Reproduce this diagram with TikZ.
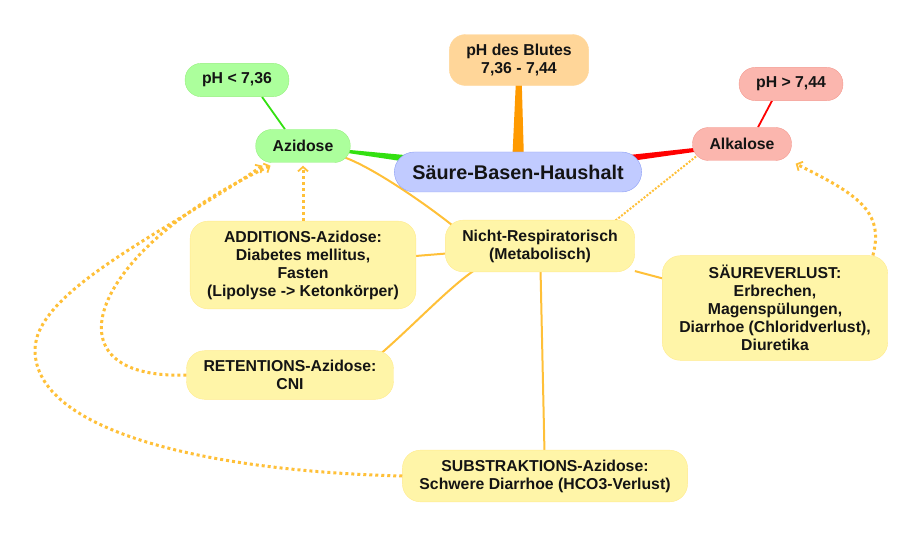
\documentclass[tikz,border=0pt]{standalone}
\usepackage{fontspec}
\setmainfont{Liberation Sans}
\usetikzlibrary{arrows.meta,calc,backgrounds}
\definecolor{textdark}{HTML}{141414}
\definecolor{softyellow}{HTML}{FFF5A8}
\definecolor{edgeyellow}{HTML}{FFEA8C}
\definecolor{linkyellow}{HTML}{FFC038}
\definecolor{softgreen}{HTML}{ACFF9C}
\definecolor{edgegreen}{HTML}{96F07E}
\definecolor{linkgreen}{HTML}{33E011}
\definecolor{softred}{HTML}{FBB6AE}
\definecolor{edgered}{HTML}{F49A90}
\definecolor{linkred}{HTML}{FF0000}
\definecolor{softblue}{HTML}{C1CBFF}
\definecolor{edgeblue}{HTML}{8C9EF5}
\definecolor{softorange}{HTML}{FFD699}
\definecolor{linkorange}{HTML}{FF9A00}
\tikzset{
  topic/.style={align=center, text=textdark, font=\fontsize{15.8}{18}\selectfont\bfseries,
    inner xsep=17pt, inner ysep=9.5pt, minimum height=33pt, rounded corners=16pt},
  yellowbox/.style={topic, draw=edgeyellow, fill=softyellow, rounded corners=18pt},
  greenbox/.style={topic, draw=edgegreen, fill=softgreen},
  redbox/.style={topic, draw=edgered, fill=softred},
  orangebox/.style={topic, draw=softorange, fill=softorange},
  mainbox/.style={topic, draw=edgeblue, fill=softblue, font=\fontsize{19.8}{22}\selectfont\bfseries,
    minimum height=40pt, inner xsep=18pt, rounded corners=20pt},
  link/.style={linkyellow, line width=2pt},
  thinlink/.style={line width=1.8pt},
  dotlink/.style={linkyellow, line width=3pt, dash pattern=on 3pt off 3pt,
    -{Straight Barb[length=4.5pt,width=10pt,line width=1.8pt]}},
  thindot/.style={linkyellow, line width=2pt, dash pattern=on 2pt off 1.6pt}
}

\begin{document}
\begin{tikzpicture}[x=1pt,y=-1pt]
  \useasboundingbox (0,0) rectangle (923,537);
  \node[mainbox] (main) at (518,172) {Säure-Basen-Haushalt};
  \node[orangebox] (blut) at (519,60) {pH des Blutes\\7,36 - 7,44};
  \node[greenbox] (ltph) at (237,80) {pH < 7,36};
  \node[greenbox] (azi) at (303,146) {Azidose};
  \node[redbox] (gtph) at (791,84) {pH > 7,44};
  \node[redbox] (alk) at (742,144) {Alkalose};
  \node[yellowbox] (nicht) at (540,246) {Nicht-Respiratorisch\\(Metabolisch)};
  \node[yellowbox] (add) at (303,265) {ADDITIONS-Azidose:\\Diabetes mellitus,\\Fasten\\(Lipolyse -> Ketonkörper)};
  \node[yellowbox] (saeure) at (775,308) {SÄUREVERLUST:\\Erbrechen,\\Magenspülungen,\\Diarrhoe (Chloridverlust),\\Diuretika};
  \node[yellowbox] (ret) at (290,375) {RETENTIONS-Azidose:\\CNI};
  \node[yellowbox] (sub) at (545,476) {SUBSTRAKTIONS-Azidose:\\Schwere Diarrhoe (HCO3-Verlust)};
  \coordinate (subbend) at (35,350);
  \begin{scope}[on background layer]
    \fill[linkorange] ($(main.center)+(-6.3,0)$) -- ($(blut.center)+(-2.1,0)$) -- ($(blut.center)+(2.1,0)$) -- ($(main.center)+(6.3,0)$) -- cycle;
    \fill[linkgreen] ($(azi.center)+(0,-0.3)$) -- ($(main.center)+(0,-6.6)$) -- ($(main.center)+(0,6.6)$) -- ($(azi.center)+(0,0.3)$) -- cycle;
    \fill[linkred] ($(main.center)+(0,-5)$) -- ($(alk.center)+(0,-1.2)$) -- ($(alk.center)+(0,1.2)$) -- ($(main.center)+(0,5)$) -- cycle;
    \draw[thinlink,linkgreen] ($(azi.north)+(-18,0)$) -- ($(ltph.south)+(25,0)$);
    \draw[thinlink,linkred] ($(alk.north)+(16,0)$) -- ($(gtph.south)+(-19,0)$);
    \draw[link] ($(azi.south east)+(-8,-6)$) .. controls +(30,10) and +(-25,-20) .. ($(nicht.north west)+(8,6)$);
    \draw[link] ($(nicht.south)+(-62,-4)$) .. controls +(-25,15) and +(35,-30) .. ($(ret.north east)+(-15,5)$);
    \draw[link] (nicht) -- (add);
    \draw[link] (nicht) -- (saeure);
    \draw[link] (nicht) -- (sub);
    \draw[thindot] ($(nicht.north east)+(-25,5)$) -- ($(alk.south west)+(6,-6)$);
  \end{scope}
  \draw[dotlink] ($(saeure.north east)+(-15,0)$) .. controls +(12,-45) and +(60,30) .. ($(alk.south east)+(4,3)$);
  \draw[dotlink] (add.north) -- ($(azi.south)+(0,3)$);
  \draw[dotlink] (ret.west) .. controls +(-145,5) and +(-180,84) .. ($(azi.south west)+(15,3)$);
  \draw[dotlink] (sub.west) .. controls +(-200,-5) and +(0,80) .. (subbend) .. controls +(0,-60) and +(-92,64) .. ($(azi.south west)+(7,3)$);
\end{tikzpicture}
\end{document}
